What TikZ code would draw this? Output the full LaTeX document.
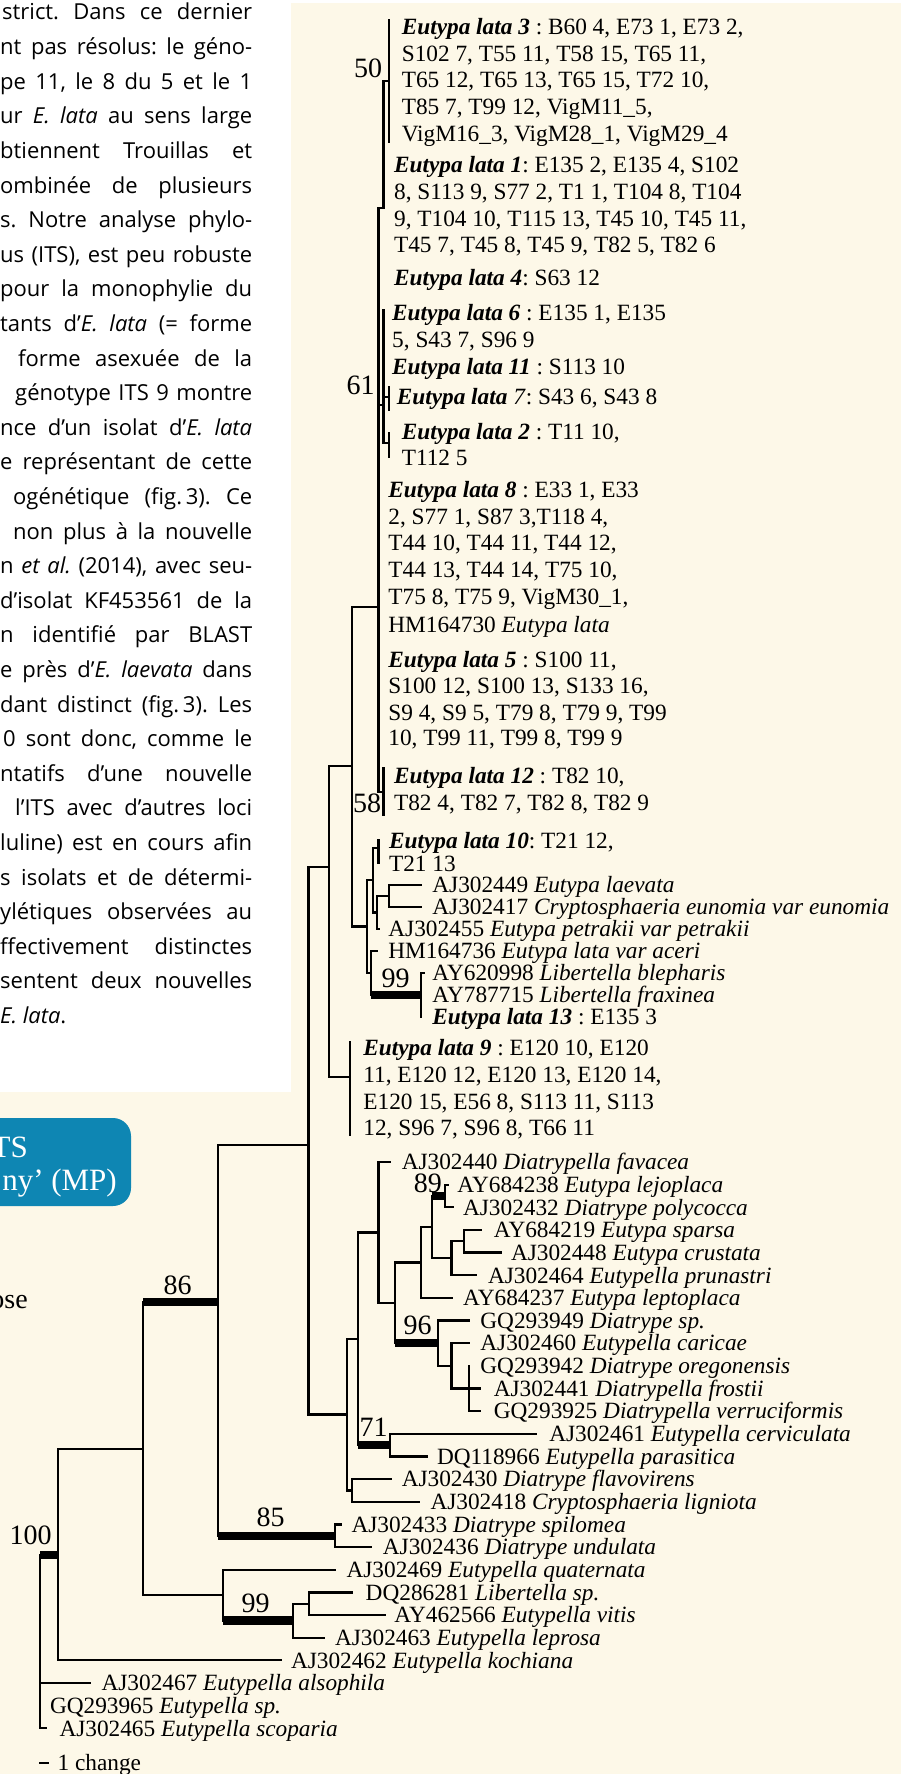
\documentclass[tikz,border=0pt]{standalone}
\usepackage{fontspec}
\setmainfont{Liberation Serif}
\newfontfamily\lsf{Open Sans}
\definecolor{cream}{RGB}{253,248,232}
\definecolor{tealblue}{RGB}{14,134,179}
\newcommand\labfont{\fontsize{23.3pt}{26.7pt}\selectfont}
\newcommand\eli[1]{\textbf{\textit{#1}}}
\newcommand\vln[3]{\draw[tr] (#1,#2) -- (#1,#3);}
\newcommand\hln[3]{\draw[tr] (#1,#3) -- (#2,#3);}
\newcommand\tbar[3]{\fill (#1,{#3-4.25}) rectangle (#2,{#3+4.25});}
\newcommand\lbl[4]{\node[lab] (#1) at (#2,{#3+7.7}) {#4};}
\newcommand\bsn[4]{\node[bsl] (#1) at (#2,{#3+9.5}) {#4};}
\newcommand\tline[4]{\node[txt] (#1) at (#2,{20+34.6*#3}) {\makebox[\dimexpr252pt-#2pt\relax][s]{#4}};}
\begin{document}
\frenchspacing
\begin{tikzpicture}[x=1pt,y=-1pt,
  tr/.style={line width=2.3pt,line cap=rect},
  lab/.style={anchor=base west,inner sep=0pt,font=\labfont},
  bsl/.style={anchor=base,inner sep=0pt,font=\fontsize{28pt}{28pt}\selectfont},
  txt/.style={anchor=base west,inner sep=0pt,font={\lsf\fontsize{22pt}{26pt}\selectfont}}]
\useasboundingbox (0,0) rectangle (901,1774);
\fill[white] (0,0) rectangle (901,1774);
\fill[cream] (0,3) rectangle (901,1774);
\fill[white] (0,0) rectangle (291,1092);
\begin{scope}
\clip (0,0) rectangle (291,1092);
\tline{t1}{2}{0}{strict. Dans ce dernier}
\tline{t2}{0}{1}{nt pas résolus: le géno-}
\tline{t3}{0}{2}{pe 11, le 8 du 5 et le 1}
\tline{t4}{0}{3}{ur \textit{E. lata} au sens large}
\tline{t5}{0}{4}{btiennent Trouillas et}
\tline{t6}{0}{5}{ombinée de plusieurs}
\tline{t7}{0}{6}{s. Notre analyse phylo-}
\tline{t8}{0}{7}{us (ITS), est peu robuste}
\tline{t9}{0}{8}{pour la monophylie du}
\tline{t10}{0}{9}{tants d’\textit{E. lata} (= forme}
\tline{t11}{18}{10}{forme asexuée de la}
\tline{t12}{15}{11}{génotype ITS 9 montre}
\tline{t13}{0}{12}{nce d’un isolat d’\textit{E. lata}}
\tline{t14}{0}{13}{e représentant de cette}
\tline{t15}{13}{14}{ogénétique (fig.\,3). Ce}
\tline{t16}{13}{15}{non plus à la nouvelle}
\tline{t17}{0}{16}{n \textit{et al.} (2014), avec seu-}
\tline{t18}{0}{17}{d’isolat KF453561 de la}
\tline{t19}{0}{18}{n identifié par BLAST}
\tline{t20}{0}{19}{e près d’\textit{E. laevata} dans}
\tline{t21}{0}{20}{dant distinct (fig.\,3). Les}
\tline{t22}{3}{21}{0 sont donc, comme le}
\tline{t23}{0}{22}{ntatifs d’une nouvelle}
\tline{t24}{15}{23}{l’ITS avec d’autres loci}
\tline{t25}{0}{24}{luline) est en cours afin}
\tline{t26}{0}{25}{s isolats et de détermi-}
\tline{t27}{0}{26}{ylétiques observées au}
\tline{t28}{0}{27}{ffectivement distinctes}
\tline{t29}{0}{28}{sentent deux nouvelles}
\node[txt] (t30) at (0,{20+34.6*29}) {\textit{E. lata}.};
\end{scope}
% blue box
\fill[tealblue,rounded corners=18pt] (-30,1118) rectangle (131,1206);
\node[anchor=base east,inner sep=0pt,text=white,font=\fontsize{31pt}{31pt}\selectfont] (bx1) at (28,1157) {TS};
\node[anchor=base east,inner sep=0pt,text=white,font=\fontsize{31pt}{31pt}\selectfont] (bx2) at (117,1190) {ny’ (MP)};
\node[anchor=base east,inner sep=0pt,font=\fontsize{28pt}{28pt}\selectfont] (ose) at (28,1308) {ose};
% ---------- upper tree ----------
\vln{389.3}{20}{142}
\hln{383.6}{389.3}{81}
\vln{383.6}{81}{208}
\hln{378.6}{383.6}{208}
\vln{378.6}{208}{792}
\vln{383.6}{310}{443}
\hln{378.6}{383.6}{405}
\vln{388.9}{387}{410}
\hln{383.6}{388.9}{397}
\vln{388.9}{433}{457}
\hln{383.6}{388.9}{443}
\vln{383.6}{768}{815}
\hln{378.6}{383.6}{792}
\hln{351.7}{378.6}{607}
\vln{351.7}{607}{926.6}
\hln{328.7}{351.7}{766}
\vln{328.7}{766}{1077}
\hln{308.4}{328.7}{867}
\vln{308.4}{867}{1414.6}
\hln{328.7}{349.8}{1077}
\vln{349.8}{1042}{1135}
\hln{351.7}{367.1}{926.6}
\vln{367.1}{880.3}{973}
\hln{367.1}{372.8}{880.3}
\vln{372.8}{848}{912.5}
\hln{372.8}{378.6}{848}
\vln{378.6}{840}{863}
\hln{372.8}{376.7}{912.5}
\vln{376.7}{896}{929}
\hln{376.7}{379}{929}
\hln{376.7}{388.9}{896}
\vln{388.9}{885}{907}
\hln{388.9}{420.7}{885}
\hln{388.9}{420.7}{907}
\hln{367.1}{370.9}{973}
\vln{370.9}{951}{995}
\hln{370.9}{376.7}{951}
\tbar{370.9}{420.7}{995}
\vln{420.7}{973}{1017}
\hln{420.7}{423.5}{973}
% ---------- lower tree ----------
\hln{218.3}{308.4}{1145}
\vln{218.3}{1145}{1535.8}
\hln{308.4}{346.7}{1414.6}
\vln{346.7}{1338.8}{1490.5}
\hln{346.7}{358}{1338.8}
\vln{358}{1232.5}{1445.1}
\hln{358}{378.6}{1232.5}
\vln{378.6}{1162}{1302.9}
\hln{378.6}{390}{1162}
\hln{378.6}{395}{1302.9}
\vln{395}{1262.5}{1343.2}
\hln{395}{420.7}{1262.5}
\vln{420.7}{1227.2}{1297.9}
\hln{420.7}{451.4}{1297.9}
\hln{420.7}{432.2}{1227.2}
\vln{432.2}{1196}{1258.3}
\tbar{432.2}{444.9}{1196}
\vln{444.9}{1184.7}{1207.3}
\hln{444.9}{447.5}{1184.7}
\hln{444.9}{453.3}{1207.3}
\hln{432.2}{451.4}{1258.3}
\vln{451.4}{1241.3}{1275.3}
\hln{451.4}{464}{1241.3}
\hln{451.4}{476.3}{1275.3}
\vln{464}{1230}{1252.6}
\hln{464}{481.3}{1230}
\hln{464}{501.2}{1252.6}
\tbar{395}{438}{1343.2}
\vln{438}{1320.6}{1365.9}
\hln{438}{468.7}{1320.6}
\hln{438}{451.4}{1365.9}
\vln{451.4}{1343.2}{1388.5}
\hln{451.4}{468.7}{1343.2}
\hln{451.4}{480.2}{1388.5}
\vln{468.7}{1365.9}{1411.2}
\hln{468.7}{480.2}{1411.2}
\tbar{358}{390}{1445.1}
\vln{390}{1433.8}{1456.5}
\hln{390}{535.7}{1433.8}
\hln{390}{426.5}{1456.5}
\hln{346.7}{352}{1490.5}
\vln{352}{1479.1}{1501.8}
\hln{352}{390.4}{1479.1}
\hln{352}{419}{1501.8}
\tbar{218.3}{334.9}{1535.8}
\vln{334.9}{1524.4}{1547.1}
\hln{334.9}{340.6}{1524.4}
\hln{334.9}{371.2}{1547.1}
\tbar{143.3}{218.3}{1302}
\vln{143.3}{1302}{1595.2}
\hln{143.3}{223.1}{1595.2}
\vln{223.1}{1569.7}{1620.7}
\hln{223.1}{334.9}{1569.7}
\tbar{223.1}{292.8}{1620.7}
\vln{292.8}{1603.7}{1637.7}
\hln{292.8}{309.2}{1603.7}
\hln{292.8}{323.4}{1637.7}
\vln{309.2}{1592.4}{1615}
\hln{309.2}{352}{1592.4}
\hln{309.2}{384.6}{1615}
\hln{58.2}{143.3}{1449}
\vln{58.2}{1449}{1660.3}
\hln{58.2}{281}{1660.3}
\tbar{40.2}{58.2}{1555}
\vln{40.2}{1555}{1728.3}
\hln{40.2}{90}{1683}
\hln{40.2}{45.9}{1728.3}
\hln{40}{48}{1763}
% ---------- E. lata labels ----------
\lbl{e3a}{401.6}{27}{\eli{Eutypa lata 3} : B60 4, E73 1, E73 2,}
\lbl{e3b}{401.6}{53.7}{S102 7, T55 11, T58 15, T65 11,}
\lbl{e3c}{401.6}{80.3}{T65 12, T65 13, T65 15, T72 10,}
\lbl{e3d}{401.6}{107}{T85 7, T99 12, VigM11\_5,}
\lbl{e3e}{401.6}{133.7}{VigM16\_3, VigM28\_1, VigM29\_4}
\lbl{e1a}{393.9}{165}{\eli{Eutypa lata 1}: E135 2, E135 4, S102}
\lbl{e1b}{393.9}{191.7}{8, S113 9, S77 2, T1 1, T104 8, T104}
\lbl{e1c}{393.9}{218.3}{9, T104 10, T115 13, T45 10, T45 11,}
\lbl{e1d}{393.9}{245}{T45 7, T45 8, T45 9, T82 5, T82 6}
\lbl{e4}{393.9}{278}{\eli{Eutypa lata 4}: S63 12}
\lbl{e6a}{392}{313}{\eli{Eutypa lata 6} : E135 1, E135}
\lbl{e6b}{392}{340}{5, S43 7, S96 9}
\lbl{e11}{392}{367}{\eli{Eutypa lata 11} : S113 10}
\lbl{e7}{396.6}{397}{\eli{Eutypa lata} \textit{7}: S43 6, S43 8}
\lbl{e2a}{401.6}{432}{\eli{Eutypa lata 2} : T11 10,}
\lbl{e2b}{401.6}{458}{T112 5}
\lbl{e8a}{388.2}{490}{\eli{Eutypa lata 8} : E33 1, E33}
\lbl{e8b}{388.2}{517}{2, S77 1, S87 3,T118 4,}
\lbl{e8c}{388.2}{543}{T44 10, T44 11, T44 12,}
\lbl{e8d}{388.2}{570}{T44 13, T44 14, T75 10,}
\lbl{e8e}{388.2}{597}{T75 8, T75 9, VigM30\_1,}
\lbl{e8f}{388.2}{625}{HM164730 \textit{Eutypa lata}}
\lbl{e5a}{388.2}{660}{\eli{Eutypa lata 5} : S100 11,}
\lbl{e5b}{388.2}{686}{S100 12, S100 13, S133 16,}
\lbl{e5c}{388.2}{713}{S9 4, S9 5, T79 8, T79 9, T99}
\lbl{e5d}{388.2}{738}{10, T99 11, T99 8, T99 9}
\lbl{e12a}{393.9}{776}{\eli{Eutypa lata 12} : T82 10,}
\lbl{e12b}{393.9}{803}{T82 4, T82 7, T82 8, T82 9}
\lbl{e10a}{388.9}{841}{\eli{Eutypa lata 10}: T21 12,}
\lbl{e10b}{388.9}{864}{T21 13}
\lbl{u0}{432.2}{885}{AJ302449 \textit{Eutypa laevata}}
\lbl{u1}{432.2}{907}{AJ302417 \textit{Cryptosphaeria eunomia var eunomia}}
\lbl{u2}{388.2}{929}{AJ302455 \textit{Eutypa petrakii var petrakii}}
\lbl{u3}{388.2}{951}{HM164736 \textit{Eutypa lata var aceri}}
\lbl{u4}{432.2}{973}{AY620998 \textit{Libertella blepharis}}
\lbl{u5}{432.2}{995}{AY787715 \textit{Libertella fraxinea}}
\lbl{u6}{432.2}{1017}{\eli{Eutypa lata 13} : E135 3}
\lbl{e9a}{363.2}{1048}{\eli{Eutypa lata 9} : E120 10, E120}
\lbl{e9b}{363.2}{1075}{11, E120 12, E120 13, E120 14,}
\lbl{e9c}{363.2}{1102}{E120 15, E56 8, S113 11, S113}
\lbl{e9d}{363.2}{1128}{12, S96 7, S96 8, T66 11}
% ---------- other leaves ----------
\lbl{l0}{401.6}{1162}{AJ302440 \textit{Diatrypella favacea}}
\lbl{l1}{457.2}{1184.7}{AY684238 \textit{Eutypa lejoplaca}}
\lbl{l2}{462.9}{1207.3}{AJ302432 \textit{Diatrype polycocca}}
\lbl{l3}{493.6}{1230}{AY684219 \textit{Eutypa sparsa}}
\lbl{l4}{510.8}{1252.6}{AJ302448 \textit{Eutypa crustata}}
\lbl{l5}{487.8}{1275.3}{AJ302464 \textit{Eutypella prunastri}}
\lbl{l6}{462.9}{1297.9}{AY684237 \textit{Eutypa leptoplaca}}
\lbl{l7}{480.2}{1320.6}{GQ293949 \textit{Diatrype sp.}}
\lbl{l8}{480.2}{1343.2}{AJ302460 \textit{Eutypella caricae}}
\lbl{l9}{480.2}{1365.9}{GQ293942 \textit{Diatrype oregonensis}}
\lbl{l10}{493.6}{1388.5}{AJ302441 \textit{Diatrypella frostii}}
\lbl{l11}{493.6}{1411.2}{GQ293925 \textit{Diatrypella verruciformis}}
\lbl{l12}{549.1}{1433.8}{AJ302461 \textit{Eutypella cerviculata}}
\lbl{l13}{436.8}{1456.5}{DQ118966 \textit{Eutypella parasitica}}
\lbl{l14}{401.6}{1479.1}{AJ302430 \textit{Diatrype flavovirens}}
\lbl{l15}{430.3}{1501.8}{AJ302418 \textit{Cryptosphaeria ligniota}}
\lbl{l16}{351.3}{1524.4}{AJ302433 \textit{Diatrype spilomea}}
\lbl{l17}{382.7}{1547.1}{AJ302436 \textit{Diatrype undulata}}
\lbl{l18}{346.4}{1569.7}{AJ302469 \textit{Eutypella quaternata}}
\lbl{l19}{365.5}{1592.4}{DQ286281 \textit{Libertella sp.}}
\lbl{l20}{394.2}{1615}{AY462566 \textit{Eutypella vitis}}
\lbl{l21}{334.9}{1637.7}{AJ302463 \textit{Eutypella leprosa}}
\lbl{l22}{290.8}{1660.3}{AJ302462 \textit{Eutypella kochiana}}
\lbl{l23}{101.4}{1683}{AJ302467 \textit{Eutypella alsophila}}
\lbl{l24}{49.8}{1705.6}{GQ293965 \textit{Eutypella sp.}}
\lbl{l25}{59.3}{1728.3}{AJ302465 \textit{Eutypella scoparia}}
\lbl{scl}{57.4}{1763}{1 change}
% ---------- bootstrap ----------
\bsn{b50}{368}{68}{50}
\bsn{b61}{360.5}{385}{61}
\bsn{b58}{367}{803}{58}
\bsn{b99a}{395.7}{978}{99}
\bsn{b89}{427.8}{1183}{89}
\bsn{b96}{417.5}{1325}{96}
\bsn{b71}{373.7}{1427}{71}
\bsn{b85}{270.5}{1517}{85}
\bsn{b86}{177.5}{1285}{86}
\bsn{b99b}{255.5}{1603}{99}
\bsn{b100}{30.7}{1535}{100}
\end{tikzpicture}
\end{document}
